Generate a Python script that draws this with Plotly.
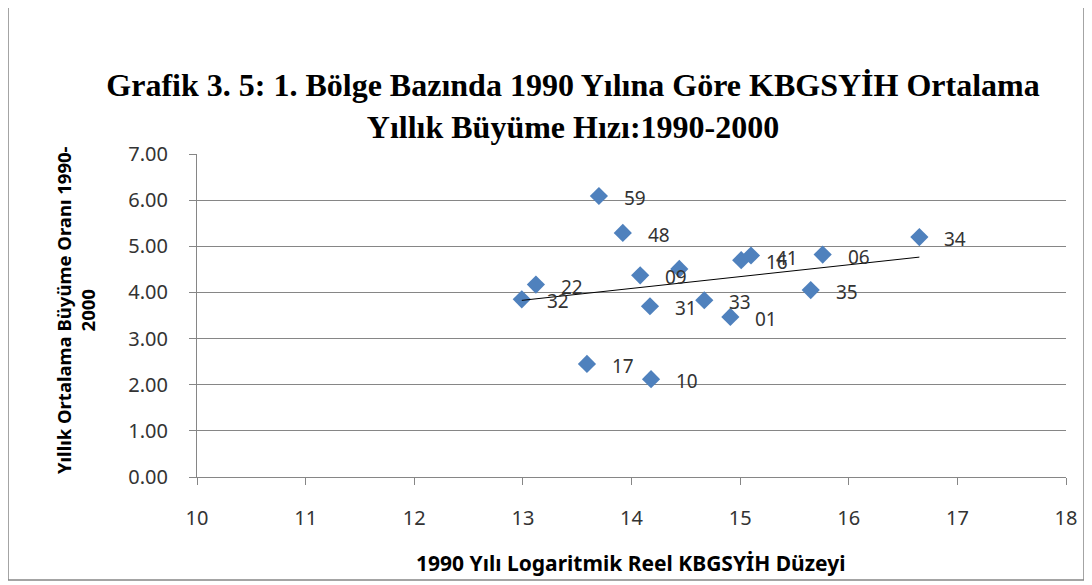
import numpy as np
import plotly.graph_objects as go

# Data
labels = ["59", "48", "09", "", "16", "41", "06", "34", "22", "32", "31", "33", "01", "35", "17", "10"]
log_gdp_1990 = [13.70, 13.92, 14.08, 14.44, 15.01, 15.10, 15.76, 16.65, 13.12, 12.99, 14.17, 14.67, 14.91, 15.65, 13.59, 14.18]
growth_rate = [6.09, 5.29, 4.37, 4.51, 4.70, 4.80, 4.82, 5.20, 4.17, 3.85, 3.70, 3.83, 3.47, 4.05, 2.45, 2.12]

x_ticks = list(range(10, 19))
y_ticks = [0, 1, 2, 3, 4, 5, 6, 7]
y_ticktext = [f"{v:.2f}" for v in y_ticks]

title_text = "Grafik 3. 5: 1. Bölge Bazında 1990 Yılına Göre KBGSYİH Ortalama<br>Yıllık Büyüme Hızı:1990-2000"
x_title = "1990 Yılı Logaritmik Reel KBGSYİH Düzeyi"
y_title = "Yıllık Ortalama Büyüme Oranı 1990-<br>2000"

# Linear trendline from the data
coef = np.polyfit(log_gdp_1990, growth_rate, 1)
tx = np.array([min(log_gdp_1990), max(log_gdp_1990)])
ty = np.polyval(coef, tx)

OFF = 8  # page body margin
W, H = 1092 - OFF, 585 - OFF
plot_l, plot_r, plot_t, plot_b = 197 - OFF, 1066 - OFF, 154 - OFF, 477 - OFF
pw, ph = plot_r - plot_l, plot_b - plot_t


def px_x(px):
    return (px - OFF - plot_l) / pw


def px_y(py):
    return (plot_b - (py - OFF)) / ph


fig = go.Figure()
fig.add_trace(go.Scatter(
    x=log_gdp_1990, y=growth_rate, mode="markers",
    marker=dict(symbol="diamond", size=14, color="#4F81BD", line=dict(width=0)),
    showlegend=False, hoverinfo="skip",
))
fig.add_trace(go.Scatter(
    x=tx, y=ty, mode="lines", line=dict(color="black", width=1),
    showlegend=False, hoverinfo="skip",
))

for xv, yv, lab in zip(log_gdp_1990, growth_rate, labels):
    if lab:
        fig.add_annotation(x=xv, y=yv, text=lab, showarrow=False, xanchor="left",
                           yanchor="middle", xshift=23, yshift=-2,
                           font=dict(family="Noto Sans", size=19, color="#333333"))

# Axis titles placed like the reference
fig.add_annotation(xref="paper", yref="paper", x=px_x(75), y=px_y(310), text=y_title,
                   textangle=-90, showarrow=False, xanchor="center", yanchor="middle",
                   font=dict(family="Noto Sans", size=18.5, color="black", weight="bold"))
fig.add_annotation(xref="paper", yref="paper", x=px_x(631), y=px_y(563), text=x_title,
                   showarrow=False, xanchor="center", yanchor="middle",
                   font=dict(family="Noto Sans", size=21, color="black", weight="bold"))

fig.add_shape(type="rect", xref="paper", yref="paper",
              x0=px_x(8), x1=px_x(1084), y0=px_y(580), y1=px_y(4),
              line=dict(color="#868686", width=1.5), layer="below")

fig.update_layout(
    width=W, height=H,
    margin=dict(l=plot_l, r=W - plot_r, t=plot_t, b=H - plot_b, autoexpand=False),
    paper_bgcolor="white", plot_bgcolor="white",
    title=dict(text=title_text, x=(573 - OFF) / W, xref="container", xanchor="center",
               y=1 - (96 - OFF) / H, yref="container", yanchor="middle",
               font=dict(family="Liberation Serif", size=32, color="black", weight="bold")),
    xaxis=dict(range=[10, 18], tickvals=x_ticks, ticktext=[str(v) for v in x_ticks],
               showgrid=False, zeroline=False, showline=True, linecolor="#868686", linewidth=1,
               ticks="outside", ticklen=7, tickcolor="#868686", ticklabelstandoff=16,
               tickfont=dict(family="Noto Sans", size=20, color="#333333")),
    yaxis=dict(range=[0, 7], tickvals=y_ticks, ticktext=y_ticktext,
               showgrid=True, gridcolor="#868686", gridwidth=1, zeroline=False,
               showline=True, linecolor="#868686", linewidth=1,
               ticks="outside", ticklen=7, tickcolor="#868686", ticklabelstandoff=17,
               ticklabelposition="outside",
               tickfont=dict(family="Noto Sans", size=20, color="#333333")),
)

fig.write_html("out.html")
